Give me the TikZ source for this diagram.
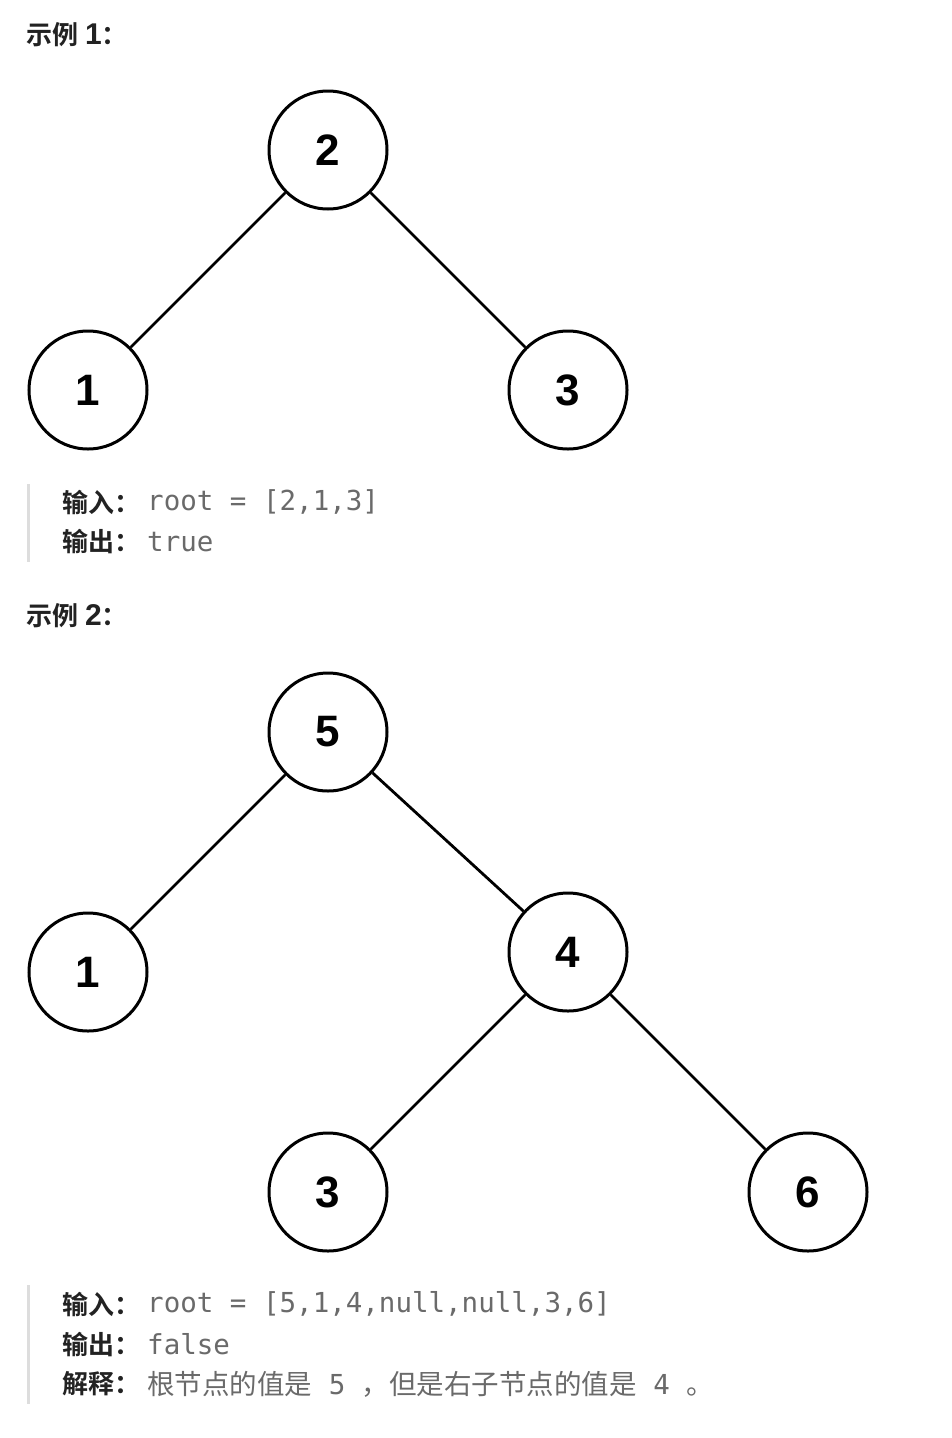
\documentclass[tikz,border=0pt]{standalone}
\usepackage{fontspec}
\setmainfont{Liberation Sans}
\newfontfamily\cjkb{Noto Sans CJK SC}[BoldFont={* Bold}]
\newfontfamily\codef{DejaVu Sans Mono}
\definecolor{txt}{HTML}{222222}
\definecolor{code}{HTML}{6A6A6A}
\definecolor{bar}{HTML}{DDDDDD}
\newcommand{\hnum}[1]{\hspace{7pt}{\rmfamily\bfseries\fontsize{30}{30}\selectfont #1}}
\tikzset{
  tn/.style={circle, draw=black, line width=3pt, minimum size=118pt, inner sep=0pt, fill=white,
    font=\fontsize{44}{44}\selectfont\bfseries},
  edge/.style={line width=2.8pt, draw=black},
  head/.style={anchor=west, inner sep=0pt, text=txt, font=\cjkb\bfseries\fontsize{26}{26}\selectfont},
  lab/.style={anchor=west, inner sep=0pt, text=txt, font=\cjkb\bfseries\fontsize{26}{26}\selectfont},
  val/.style={anchor=west, inner sep=0pt, text=code, font=\codef\fontsize{27.5}{27.5}\selectfont},
  barl/.style={line width=3pt, draw=bar}
}
\begin{document}
\begin{tikzpicture}[x=1pt,y=-1pt]
\useasboundingbox[fill=white] (0,0) rectangle (952,1438);
% Example 1
\node[head] (h1) at (26,35) {示例\hnum{1}：};
\node[tn] (a2) at (328,150) {2};
\node[tn] (a1) at (88,390) {1};
\node[tn] (a3) at (568,390) {3};
\draw[edge] (a2) -- (a1);
\draw[edge] (a2) -- (a3);
\coordinate (b1t) at (28,484);
\coordinate (b1b) at (28,562);
\draw[barl] (b1t) -- (b1b);
\node[lab] (in1) at (62,502) {输入：};
\node[val] (in1v) at (147,502) {root = [2,1,3]};
\node[lab] (out1) at (62,542) {输出：};
\node[val] (out1v) at (147,542) {true};
% Example 2
\node[head] (h2) at (26,616) {示例\hnum{2}：};
\node[tn] (b5) at (328,732) {5};
\node[tn] (b1) at (88,972) {1};
\node[tn] (b4) at (568,952) {4};
\node[tn] (b3) at (328,1192) {3};
\node[tn] (b6) at (808,1192) {6};
\draw[edge] (b5) -- (b1);
\draw[edge] (b5) -- (b4);
\draw[edge] (b4) -- (b3);
\draw[edge] (b4) -- (b6);
\coordinate (b2t) at (28,1285);
\coordinate (b2b) at (28,1404);
\draw[barl] (b2t) -- (b2b);
\node[lab] (in2) at (62,1304) {输入：};
\node[val] (in2v) at (147,1304) {root = [5,1,4,null,null,3,6]};
\node[lab] (out2) at (62,1344) {输出：};
\node[val] (out2v) at (147,1344) {false};
\node[lab] (ex2) at (62,1384) {解释：};
\node[val] (ex2v) at (147,1384) {{\cjkb 根节点的值是} 5 {\cjkb ，但是右子节点的值是} 4 {\cjkb 。}};
\end{tikzpicture}
\end{document}
